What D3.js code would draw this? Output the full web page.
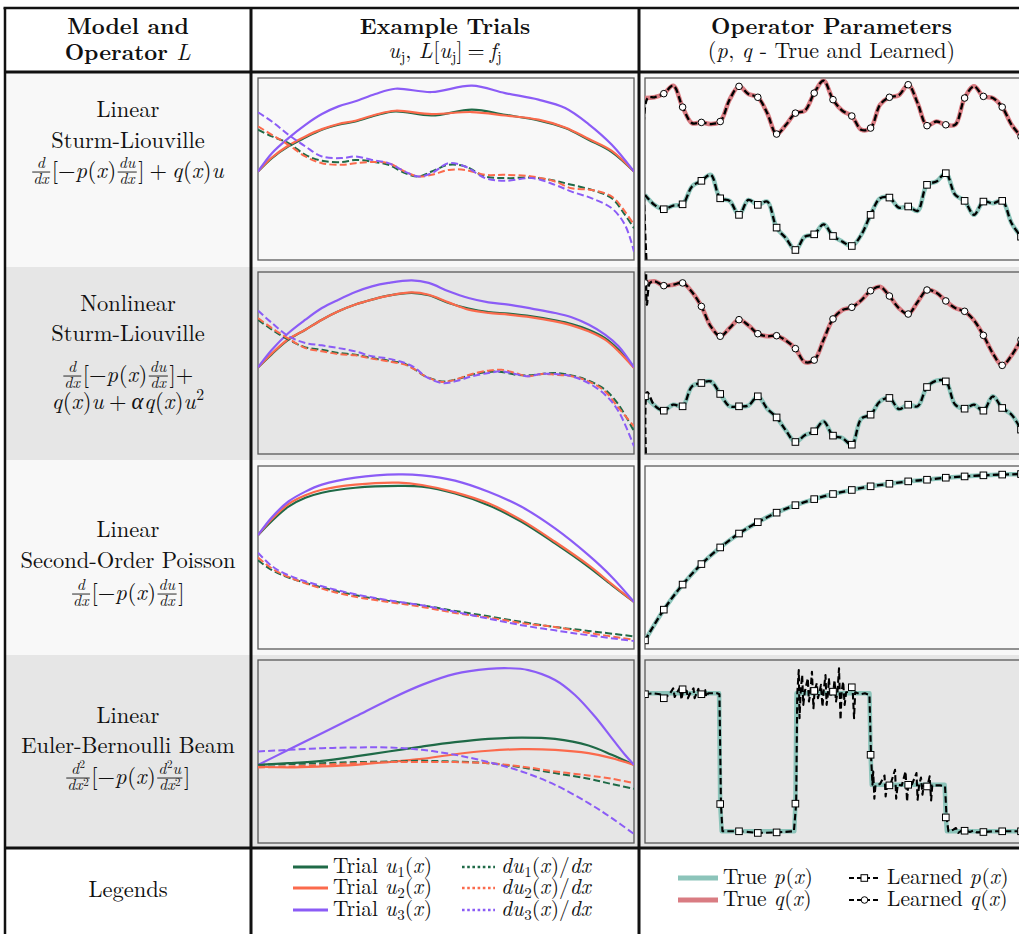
<!DOCTYPE html>
<html><head><meta charset="utf-8">
<script src="https://cdn.jsdelivr.net/npm/d3@7"></script>
<style>body{margin:0;background:#fff} text{white-space:pre}</style>
</head><body>
<svg id="c" width="1019" height="934"></svg>
<script>
// ---------------- DATA ----------------
// Example trials (x in [0,1], values in arbitrary units 0..100)
const r1sx = [0,.037,.081,.126,.170,.214,.259,.312,.365,.462,.569,.657,.746,.817,.879,.941,1];
const r1u1 = [48.6,56.0,62.4,67.3,71.6,74.3,76.1,79.4,81.7,79.4,82.6,79.8,76.7,72.5,66.1,59.3,48.6];
const r1u2 = [48.6,56.3,62.9,67.9,71.9,74.7,76.5,79.8,82.0,80.2,81.3,79.4,77.1,72.8,66.6,60.0,48.6];
const r1u3 = [48.6,58.7,67.0,74.3,80.2,84.4,87.2,91.2,94.1,92.3,95.8,91.7,88.1,83.5,74.7,63.3,48.6];
const r1dx = [0,.037,.081,.126,.170,.223,.259,.303,.347,.391,.427,.462,.507,.551,.604,.657,.728,.790,.834,.888,.941,.976,1];
const r1d1 = [71.6,67.9,64.2,57.8,54.5,53.8,55.0,54.1,52.3,47.7,45.9,48.6,52.3,51.4,45.9,45.0,45.3,43.5,41.3,38.5,33.9,24.8,17.4];
const r1d2 = [73.4,68.8,63.3,56.9,53.2,52.3,53.2,53.8,53.2,48.6,45.9,46.8,49.5,49.5,46.8,46.8,45.9,43.1,39.4,38.5,34.9,26.6,19.3];
const r1d3 = [81.1,76.1,68.8,62.4,56.9,56.0,56.9,55.0,53.2,48.6,45.9,47.7,53.2,51.4,45.0,43.5,45.0,41.3,37.6,33.9,28.4,19.3,4.6];

const r2sx = [0,.037,.081,.126,.170,.214,.259,.303,.347,.409,.454,.507,.560,.613,.666,.728,.790,.834,.879,.923,.959,1];
const r2u1 = [47.6,54.9,62.8,68.3,73.8,78.4,82.1,84.8,87.0,88.5,87.2,83.0,79.9,78.0,77.1,75.6,73.4,71.4,68.3,63.7,57.3,47.6];
const r2u2 = [47.6,55.3,63.2,68.3,73.8,78.4,82.1,84.8,87.0,88.8,87.5,83.3,79.3,77.5,76.6,75.1,72.9,70.7,67.4,62.8,56.4,47.3];
const r2u3 = [47.6,57.3,66.5,73.8,80.2,84.8,89.0,92.1,94.0,95.4,94.0,89.4,85.7,83.3,82.1,79.9,77.5,75.1,71.1,65.6,59.2,47.6];
const r2dx = [0,.037,.081,.126,.170,.214,.259,.303,.347,.391,.418,.445,.489,.524,.569,.613,.648,.684,.719,.755,.790,.834,.879,.923,.959,1];
const r2d1 = [73.8,68.3,62.8,58.6,57.3,55.5,54.6,52.7,51.3,49.5,46.3,42.7,39.9,40.8,43.6,45.1,45.1,43.6,43.2,44.0,44.5,43.2,40.3,35.3,27.1,12.5];
const r2d2 = [74.7,69.2,63.4,58.2,56.4,54.9,54.2,52.4,50.9,49.1,46.3,42.7,39.6,40.8,44.0,45.8,46.3,44.5,42.7,44.0,43.6,42.7,39.9,34.4,25.3,15.2];
const r2d3 = [78.8,72.0,64.7,61.0,59.7,58.2,56.4,53.7,52.4,50.0,47.3,42.7,39.0,39.9,42.7,44.5,45.4,44.0,42.7,44.0,44.0,42.7,39.0,32.6,23.4,4.2];

const r3sx = [0,.037,.081,.126,.170,.259,.374,.436,.524,.613,.701,.790,.879,.941,1];
const r3u1 = [62.2,70.0,77.8,82.6,85.4,88.1,89.1,88.7,85.0,78.6,69.5,57.7,44.9,34.9,25.7];
const r3u2 = [62.2,71.0,79.2,84.0,87.0,89.8,90.9,89.6,85.6,79.6,70.4,58.6,45.8,35.4,25.7];
const r3u3 = [62.2,72.0,80.6,86.0,89.8,93.6,95.4,94.9,92.0,85.9,77.7,65.9,51.3,39.4,25.7];
const r3dx = [0,.037,.081,.170,.259,.347,.436,.524,.613,.701,.790,.879,1];
const r3d1 = [48.5,43.1,39.1,33.6,29.4,26.3,23.9,20.8,17.9,14.8,12.0,9.9,6.9];
const r3d2 = [50.0,44.0,39.4,33.0,28.5,25.7,23.0,19.7,17.2,14.2,12.0,8.8,5.1];
const r3d3 = [52.6,45.3,40.3,34.3,29.9,26.6,23.9,20.3,16.6,13.0,10.2,7.5,4.4];

const r4sx = [0,.081,.170,.259,.347,.436,.524,.613,.701,.790,.879,.941,1];
const r4u1 = [42.7,43.6,44.9,47.3,50.0,52.7,55.1,56.9,57.6,56.9,53.3,48.2,42.7];
const r4u2 = [41.8,41.3,41.8,42.7,44.2,46.0,48.5,50.4,51.3,50.9,49.1,46.4,42.7];
const r4u3x = [0,.081,.170,.259,.347,.436,.524,.613,.666,.719,.790,.843,.896,.941,.976,1];
const r4u3 = [42.7,50.9,60.0,69.1,78.2,86.4,92.4,95.1,95.5,94.5,89.1,80.9,69.1,57.3,48.2,42.7];
const r4d1 = [42.7,43.1,43.6,44.2,44.5,44.9,44.5,43.6,41.3,38.2,35.1,32.2,29.6];
const r4d2 = [41.3,41.8,42.7,43.6,44.2,44.2,44.2,43.6,41.8,39.1,36.9,35.1,32.7];
const r4d3 = [50.0,50.9,51.8,52.2,52.2,50.9,48.2,44.2,39.1,31.8,21.8,13.6,4.9];

// Operator parameters (true values sampled every 0.025; learned markers every 0.05)
const parX = d3.range(41).map(i => i / 40);
const r1q = [89.0,89.4,91.4,95.8,84.0,75.2,75.6,74.7,76.1,88.1,95.4,91.2,89.4,80.7,69.2,74.3,80.7,82.0,91.7,98.5,88.1,82.0,79.1,71.6,72.5,85.3,89.4,90.5,96.3,86.2,73.8,76.1,74.3,74.3,89.0,95.4,89.9,89.0,84.0,74.3,67.9];
const r1p = [35.8,30.3,27.9,29.9,30.6,40.4,43.5,46.8,33.9,32.5,24.8,33.0,30.3,32.1,17.8,11.9,5.5,12.8,14.1,19.6,13.2,10.1,7.7,13.8,24.8,33.9,34.3,28.8,29.4,27.0,41.3,43.1,47.7,35.8,32.5,24.8,32.1,31.2,32.5,20.2,12.8];
const r2q = [94.0,94.9,92.5,93.0,94.0,89.0,81.1,70.1,64.7,69.2,73.8,70.7,66.1,64.7,65.0,62.3,57.9,50.5,51.6,62.8,74.2,79.1,80.6,84.4,89.7,91.9,86.8,80.2,76.9,83.5,90.1,88.6,84.1,80.2,78.4,73.4,65.2,55.3,48.7,54.2,62.8];
const r2p = [31.7,26.7,23.8,27.1,26.2,37.2,39.0,39.9,33.0,26.2,26.2,26.6,31.7,24.9,20.1,12.8,6.6,10.3,12.5,17.9,10.1,8.8,5.1,19.4,21.6,28.9,30.8,24.7,27.1,26.2,36.8,40.3,39.9,27.1,24.9,27.1,23.8,31.7,25.3,21.6,13.4];
// learned boundary artefacts at x≈0
const r1qEdge = [[0.005,-5],[0.007,89.0]];
const r2qEdge = [[0.003,104],[0.005,82],[0.013,94.0]];
const r2pEdge = [[0.003,-5],[0.006,34.0]];

const r3X = [0,.05,.1,.15,.2,.25,.3,.35,.4,.45,.5,.55,.6,.65,.7,.75,.8,.85,.9,.95,1];
const r3p = [4.7,21.5,35.2,46.4,55.5,63.1,69.3,74.5,78.6,81.9,84.7,86.9,88.9,90.3,91.6,92.5,93.6,94.3,94.9,95.3,95.6];

const r4pX = [0,.197,.2,.204,.397,.4,.403,.597,.6,.603,.797,.8,.803,1];
const r4pV = [81.8,81.8,21.3,6.4,6.4,21.5,81.8,81.8,48.2,31.8,31.8,14.0,6.4,6.4];
const r4lX = [0,.022,.040,.053,.066,.075,.079,.084,.093,.097,.102,.111,.114,.120,.129,.132,.137,.142,.145,.152,.160,.163,.168,.192,.198,
 .202,.206,.253,.301,.352,.396,.402,
 .405,.409,.411,.414,.418,.421,.425,.433,.436,.440,.444,.448,.451,.457,.460,.464,.468,.472,.475,.480,.483,.487,.489,.493,.496,.501,.504,.508,.512,.516,.520,.523,.527,.531,.535,.545,.552,.556,.559,.572,.585,.597,
 .601,.605,.607,.610,.613,.625,.637,.640,.644,.652,.665,.668,.672,.683,.693,.697,.700,.709,.722,.725,.729,.734,.738,.741,.751,.757,.761,.764,.785,.798,
 .802,.807,.820,.827,.833,.842,.853,.864,.873,.882,.902,.926,.953,1];
const r4lV = [81.3,81.8,81.3,79.1,81.6,84.5,79.8,81.8,84.9,78.4,84.0,83.1,79.1,81.8,84.5,79.1,81.8,84.2,79.8,81.3,83.6,79.8,81.8,81.8,81.3,
 21.3,6.4,6.4,5.5,5.8,6.4,21.5,
 81.8,94.5,68.2,82.7,91.8,75.5,82.7,90.0,77.3,82.4,93.6,73.6,83.1,87.3,79.1,82.4,86.4,74.5,82.7,91.8,75.5,82.4,90.0,80.0,82.7,82.7,89.1,77.3,82.7,95.5,67.3,82.7,88.2,75.5,82.4,82.7,85.1,68.2,82.4,81.3,81.8,80.9,
 48.2,31.8,39.1,24.2,31.5,32.2,36.9,25.5,31.5,31.5,40.0,24.2,31.8,31.5,39.1,22.7,31.8,31.5,38.2,23.6,31.5,35.8,26.4,31.5,30.9,36.4,23.3,31.5,31.5,30.9,
 14.0,6.4,7.3,8.2,5.5,6.7,6.7,6.0,6.7,5.8,6.0,6.4,6.4,6.4];
const r4mX = [0,.05,.1,.15,.2,.25,.3,.35,.4,.45,.5,.55,.6,.65,.7,.75,.8,.85,.9,.95,1];
const r4mV = [81.3,79.1,84.0,81.3,21.3,6.4,5.5,5.8,21.5,83.1,82.7,85.1,48.2,31.5,31.8,30.9,14.0,6.7,6.0,6.4,6.4];

// ---------------- STYLE ----------------
const C = {u1:"#1f6a47", u2:"#fb6a4c", u3:"#8b5cf6", p:"#8cc4ba", q:"#d97c82"};
const FONT = '"Latin Modern Roman"';

const svg = d3.select("#c").attr("fill", "#111");

// ---------------- TABLE ----------------
const colX = [5, 251, 639, 1024];
const rowY = [8, 72, 267, 460, 655, 848, 940];
const rowBg = ["#ffffff", "#f8f8f8", "#e6e6e6", "#f8f8f8", "#e6e6e6", "#ffffff"];
rowBg.forEach((c, i) => svg.append("rect").attr("x", colX[0]).attr("y", rowY[i])
  .attr("width", 1030 - colX[0]).attr("height", rowY[i+1] - rowY[i]).attr("fill", c));

// panels
const panelY = [[78,260],[272,454],[466,649],[660,843]];
const midXR = [258, 634], rightXR = [645, 1021];
let clipId = 0;
function panel(xr, yr, rightOpen) {
  const id = "clip" + (clipId++);
  svg.append("clipPath").attr("id", id).append("rect")
    .attr("x", xr[0]).attr("y", yr[0]).attr("width", (rightOpen ? 1030 : xr[1]) - xr[0]).attr("height", yr[1] - yr[0]);
  svg.append("rect").attr("x", xr[0]).attr("y", yr[0]).attr("width", (rightOpen ? 1040 : xr[1]) - xr[0])
    .attr("height", yr[1] - yr[0]).attr("fill", "none").attr("stroke", "#5a5a5a").attr("stroke-width", 1.3);
  const g = svg.append("g").attr("clip-path", `url(#${id})`);
  const sx = d3.scaleLinear().domain([0, 1]).range(xr);
  const sy = d3.scaleLinear().domain([0, 100]).range([yr[1], yr[0]]);
  return {g, sx, sy};
}
function path(P, xs, ys, opt) {
  const ln = d3.line().x((d, i) => P.sx(xs[i])).y(d => P.sy(d)).curve(opt.curve || d3.curveCatmullRom.alpha(0.5));
  P.g.append("path").attr("d", ln(ys)).attr("fill", "none").attr("stroke", opt.color)
    .attr("stroke-width", opt.w || 2).attr("stroke-dasharray", opt.dash || null)
    .attr("stroke-opacity", opt.op || 1).attr("stroke-linejoin", "round");
}
function markers(P, xs, ys, shape) {
  xs.forEach((x, i) => {
    const cx = P.sx(x), cy = P.sy(ys[i]);
    if (shape === "sq") P.g.append("rect").attr("x", cx - 3.3).attr("y", cy - 3.3).attr("width", 6.6).attr("height", 6.6)
      .attr("fill", "#fff").attr("stroke", "#000").attr("stroke-width", 1);
    else P.g.append("circle").attr("cx", cx).attr("cy", cy).attr("r", 3.3).attr("fill", "#fff").attr("stroke", "#000").attr("stroke-width", 1);
  });
}

// middle panels
const trials = [
  [r1sx, [r1u1, r1u2, r1u3], r1dx, [r1d1, r1d2, r1d3]],
  [r2sx, [r2u1, r2u2, r2u3], r2dx, [r2d1, r2d2, r2d3]],
  [r3sx, [r3u1, r3u2, r3u3], r3dx, [r3d1, r3d2, r3d3]],
  [r4sx, [r4u1, r4u2, r4u3], r4sx, [r4d1, r4d2, r4d3]]
];
const cols = [C.u1, C.u2, C.u3];
trials.forEach((t, r) => {
  const P = panel(midXR, panelY[r], false);
  t[1].forEach((ys, k) => path(P, (r === 3 && k === 2) ? r4u3x : t[0], ys, {color: cols[k], w: 2.2}));
  t[3].forEach((ys, k) => path(P, t[2], ys, {color: cols[k], w: 2, dash: "7,3.2"}));
});

// right panels
const LD = {color: "#000", w: 2.3, dash: "6.5,3.2"};
function edgeSeries(edge, vals) {
  return {x: edge.map(d => d[0]).concat(parX.slice(1)), v: edge.map(d => d[1]).concat(vals.slice(1))};
}
const even = a => a.filter((d, i) => i % 2 === 0);
{ // row 1
  const P = panel(rightXR, panelY[0], true);
  path(P, parX, r1q, {color: C.q, w: 4.5});
  path(P, parX, r1p, {color: C.p, w: 4.5});
  const lq = edgeSeries(r1qEdge, r1q);
  path(P, lq.x, lq.v, LD);
  path(P, parX, r1p, LD);
  markers(P, even(parX).slice(1), even(r1q).slice(1), "ci");
  markers(P, even(parX).slice(1), even(r1p).slice(1), "sq");
}
{ // row 2
  const P = panel(rightXR, panelY[1], true);
  path(P, parX, r2q, {color: C.q, w: 4.5});
  path(P, parX, r2p, {color: C.p, w: 4.5});
  const lq = edgeSeries(r2qEdge, r2q), lp = edgeSeries(r2pEdge, r2p);
  path(P, lq.x, lq.v, LD);
  path(P, lp.x, lp.v, LD);
  markers(P, even(parX), even(r2q), "ci");
  markers(P, even(parX), even(r2p), "sq");
}
{ // row 3
  const P = panel(rightXR, panelY[2], true);
  path(P, r3X, r3p, {color: C.p, w: 4.5});
  path(P, r3X, r3p, LD);
  markers(P, r3X, r3p, "sq");
}
{ // row 4
  const P = panel(rightXR, panelY[3], true);
  path(P, r4pX, r4pV, {color: C.p, w: 4.5, curve: d3.curveLinear});
  path(P, r4lX, r4lV, Object.assign({}, LD, {curve: d3.curveLinear, w: 2.1}));
  markers(P, r4mX, r4mV, "sq");
}

// table lines
const LC = "#111";
function hline(y, x1, x2, w) { svg.append("line").attr("x1", x1).attr("x2", x2).attr("y1", y).attr("y2", y).attr("stroke", LC).attr("stroke-width", w); }
function vline(x, y1, y2, w) { svg.append("line").attr("x1", x).attr("x2", x).attr("y1", y1).attr("y2", y2).attr("stroke", LC).attr("stroke-width", w); }
hline(rowY[0], colX[0] - 1.5, 1030, 2.5);
hline(rowY[1], colX[0], 1030, 3);
hline(rowY[5], colX[0], 1030, 3);
vline(colX[0], rowY[0], 940, 2.5);
vline(colX[1], rowY[0], 940, 3);
vline(colX[2], rowY[0], 940, 3);
vline(colX[3], rowY[0], 940, 3);

// ---------------- TEXT LAYOUT (one <text> per line, tspans per token) ----------------
function lay(textEl, tokens, fs, y0, bars, cramped) {
  let x = 0; const spans = [];
  for (const tk of tokens) {
    if (tk.sp !== undefined) { x += tk.sp; continue; }
    if (tk.frac) {
      const ffs = fs * 0.7, barY = y0 - fs * 0.265;
      const n = lay(textEl, tk.frac[0], ffs, barY - 3.6, bars, false);
      const d = lay(textEl, tk.frac[1], ffs, barY + ffs * 0.74, bars, true);
      const w = Math.max(n.w, d.w) + 3;
      n.spans.forEach(s => s.x += x + (w - n.w) / 2);
      d.spans.forEach(s => s.x += x + (w - d.w) / 2);
      spans.push(...n.spans, ...d.spans);
      const bar = {x1: 0.5, x2: w - 0.5, y: barY, x: x};
      bars.push(bar); spans.push({bar, x: 0});
      x += w + 1;
      continue;
    }
    let size = fs, dy = 0, txt = tk.t;
    if (tk.sub !== undefined) { size = fs * 0.7; dy = fs * 0.2; txt = tk.sub; }
    if (tk.sup !== undefined) { size = fs * 0.7; dy = cramped ? -fs * 0.22 : -fs * 0.4; txt = tk.sup; }
    const el = d3.select(textEl).append("tspan").attr("x", 0).attr("y", y0 + dy).attr("font-size", size)
      .attr("font-style", tk.it ? "italic" : "normal").attr("font-weight", tk.b ? "bold" : "normal").text(txt);
    if (tk.font) el.style("font-family", tk.font);
    const w = el.node().getComputedTextLength();
    spans.push({el, x});
    x += w + (tk.it ? 0.6 : 0);
  }
  return {w: x, spans};
}
function place(tokens, x, by, fs, anchor) {
  const g = svg.append("g");
  const t = g.append("text").style("font-family", FONT);
  const bars = [];
  const r = lay(t.node(), tokens, fs, 0, bars, false);
  const off = anchor === "middle" ? x - r.w / 2 : x;
  r.spans.forEach(s => {
    if (s.el) s.el.attr("x", s.x + off);
    else s.bar.x += s.x;
  });
  bars.forEach(b => g.append("line").attr("x1", b.x + b.x1 + off).attr("x2", b.x + b.x2 + off).attr("y1", b.y).attr("y2", b.y)
    .attr("stroke", "#111").attr("stroke-width", 0.9));
  g.attr("transform", `translate(0,${by})`);
}
const centered = (tk, cx, by, fs) => place(tk, cx, by, fs, "middle");
const leftAt = (tk, x, by, fs) => place(tk, x, by, fs, "start");
const R = t => ({t}), I = t => ({t, it: true}), B = t => ({t, b: true});
const sub = s => ({sub: s}), sup = s => ({sup: s}), SP = n => ({sp: n});
const frac = (n, d) => ({frac: [n, d]});
const dDx = () => frac([I("d")], [I("dx")]);
const duDx = () => frac([I("du")], [I("dx")]);

// headers
const cL = (colX[0] + colX[1]) / 2, cM = (colX[1] + colX[2]) / 2, cR = (colX[2] + colX[3]) / 2;
centered([B("Model and")], cL, 34, 22.5);
centered([B("Operator "), I("L")], cL, 60, 22.5);
centered([B("Example Trials")], cM, 34, 22.5);
centered([I("u"), sub("j"), R(", "), I("L"), R("["), I("u"), sub("j"), R("]"), SP(5), R("="), SP(5), I("f"), sub("j")], cM, 58, 22);
centered([B("Operator Parameters")], cR, 34, 22.5);
centered([R("("), I("p"), R(", "), I("q"), R(" - True and Learned)")], cR, 58, 22);

// model labels
const FS = 22.5;
centered([R("Linear")], cL, 117, FS);
centered([R("Sturm-Liouville")], cL, 148, FS);
centered([dDx(), R("["), R("−"), I("p"), R("("), I("x"), R(")"), SP(1), duDx(), R("]"), SP(5), R("+"), SP(5), I("q"), R("("), I("x"), R(")"), I("u")], cL, 178, FS);

centered([R("Nonlinear")], cL, 311, FS);
centered([R("Sturm-Liouville")], cL, 341, FS);
centered([dDx(), R("["), R("−"), I("p"), R("("), I("x"), R(")"), SP(1), duDx(), R("]"), R("+")], cL, 382, FS);
centered([I("q"), R("("), I("x"), R(")"), I("u"), SP(5), R("+"), SP(5), {t: "α", it: true, font: '"Liberation Serif"'}, I("q"), R("("), I("x"), R(")"), I("u"), sup("2")], cL, 409, FS);

centered([R("Linear")], cL, 537, FS);
centered([R("Second-Order Poisson")], cL, 568, FS);
centered([dDx(), R("["), R("−"), I("p"), R("("), I("x"), R(")"), SP(1), duDx(), R("]")], cL, 600, FS);

centered([R("Linear")], cL, 723, FS);
centered([R("Euler-Bernoulli Beam")], cL, 753, FS);
centered([frac([I("d"), sup("2")], [I("dx"), sup("2")]), R("["), R("−"), I("p"), R("("), I("x"), R(")"), SP(1),
  frac([I("d"), sup("2"), I("u")], [I("dx"), sup("2")]), R("]")], cL, 784, FS);

centered([R("Legends")], cL, 897, FS);

// ---------------- LEGENDS ----------------
const LFS = 21.5;
const legY = [867, 888, 910];
[C.u1, C.u2, C.u3].forEach((c, i) => {
  svg.append("line").attr("x1", 293).attr("x2", 328).attr("y1", legY[i]).attr("y2", legY[i]).attr("stroke", c).attr("stroke-width", 3.2);
  leftAt([R("Trial "), I("u"), sub(String(i + 1)), R("("), I("x"), R(")")], 333, legY[i] + 6, LFS);
  svg.append("line").attr("x1", 462).attr("x2", 495).attr("y1", legY[i]).attr("y2", legY[i]).attr("stroke", c)
    .attr("stroke-width", 2.6).attr("stroke-dasharray", "2.6,2.6");
  leftAt([I("du"), sub(String(i + 1)), R("("), I("x"), R(")/"), I("dx")], 501, legY[i] + 6, LFS);
});
const legR = [878, 900];
[[C.p, "p", "sq"], [C.q, "q", "ci"]].forEach((d, i) => {
  const y = legR[i];
  svg.append("line").attr("x1", 678).attr("x2", 718).attr("y1", y).attr("y2", y).attr("stroke", d[0]).attr("stroke-width", 5);
  leftAt([R("True "), I(d[1]), R("("), I("x"), R(")")], 723, y + 6, LFS);
  svg.append("line").attr("x1", 849).attr("x2", 880).attr("y1", y).attr("y2", y).attr("stroke", "#000")
    .attr("stroke-width", 2).attr("stroke-dasharray", "5,3");
  if (d[2] === "sq") svg.append("rect").attr("x", 861).attr("y", y - 3.3).attr("width", 6.6).attr("height", 6.6).attr("fill", "#fff").attr("stroke", "#000");
  else svg.append("circle").attr("cx", 864.5).attr("cy", y).attr("r", 3.3).attr("fill", "#fff").attr("stroke", "#000");
  leftAt([R("Learned "), I(d[1]), R("("), I("x"), R(")")], 887, y + 6, LFS);
});
</script>
</body></html>
